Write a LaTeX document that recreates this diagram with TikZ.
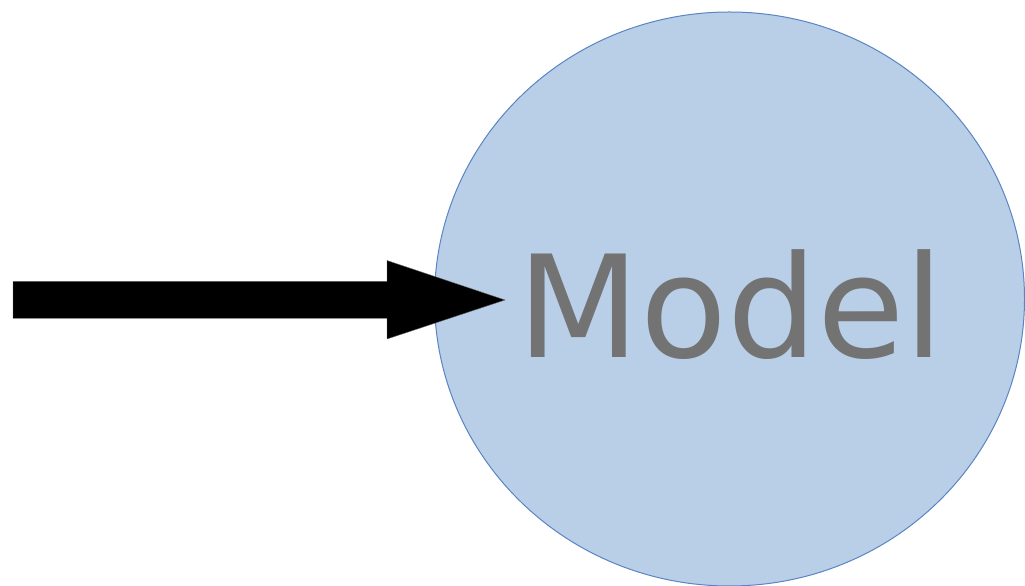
\documentclass[tikz,border=0pt]{standalone}
\usepackage{fontspec}
\newfontfamily\labelfont{DejaVu Sans}
\definecolor{modelfill}{HTML}{B8CFE7}
\definecolor{modeldraw}{HTML}{5A84C4}
\definecolor{modeltext}{HTML}{737373}
\tikzset{
  modelshape/.style={draw=modeldraw, line width=1pt, fill=modelfill},
  blockarrow/.style={fill=black, draw=black!60, line width=0.4pt},
}
\begin{document}
\begin{tikzpicture}[x=1pt,y=1pt]
\useasboundingbox (0,0) rectangle (1025,586);
\draw[modelshape] (729.5,287) ellipse [x radius=295, y radius=287];
\node[anchor=base, inner sep=0pt, text=modeltext, font={\labelfont\fontsize{142}{150}\selectfont}] (model) at (731,228) {Model};
\coordinate (tail) at (13,286);
\coordinate (tip) at (505,286);
\fill[blockarrow] ([yshift=18.5]tail) -- ++(374,0) -- ++(0,21) -- (tip) -- ([xshift=374,yshift=-39]tail) -- ++(0,20.5) -- ([yshift=-18.5]tail) -- cycle;
\end{tikzpicture}
\end{document}
